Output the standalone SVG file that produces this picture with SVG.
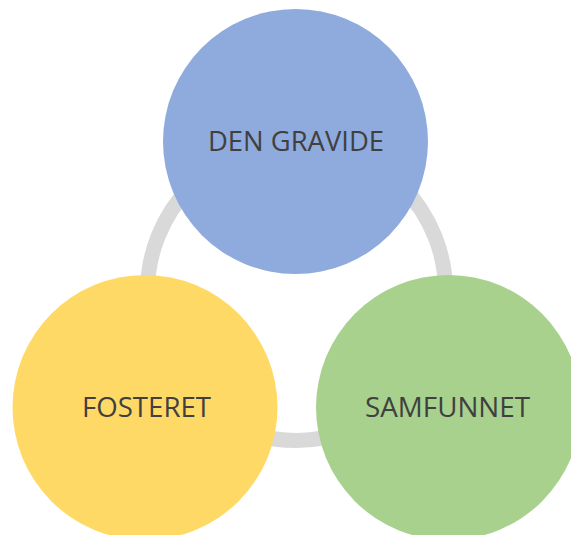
<svg xmlns="http://www.w3.org/2000/svg" width="571" height="535" viewBox="0 0 571 535">
<style>
.lbl{font-family:"Open Sans","Liberation Sans",sans-serif;font-size:27px;fill:#404040;text-anchor:middle}
.ring{fill:none;stroke:#D9D9D9;stroke-width:15}
</style>
<rect width="571" height="535" fill="#fff"/>
<g id="connectors">
<circle class="ring" cx="296.5" cy="291.5" r="149"/>
</g>
<g id="den-gravide">
<circle cx="295.5" cy="141.5" r="132.5" fill="#8FAADC"/>
<text class="lbl" x="296" y="150.5" textLength="176" lengthAdjust="spacingAndGlyphs">DEN GRAVIDE</text>
</g>
<g id="fosteret">
<circle cx="145" cy="407.5" r="132.5" fill="#FFD966"/>
<text class="lbl" x="146.5" y="417" textLength="129" lengthAdjust="spacingAndGlyphs">FOSTERET</text>
</g>
<g id="samfunnet">
<circle cx="448.5" cy="407.5" r="132.5" fill="#A9D18E"/>
<text class="lbl" x="447.5" y="417" textLength="165" lengthAdjust="spacingAndGlyphs">SAMFUNNET</text>
</g>
</svg>
